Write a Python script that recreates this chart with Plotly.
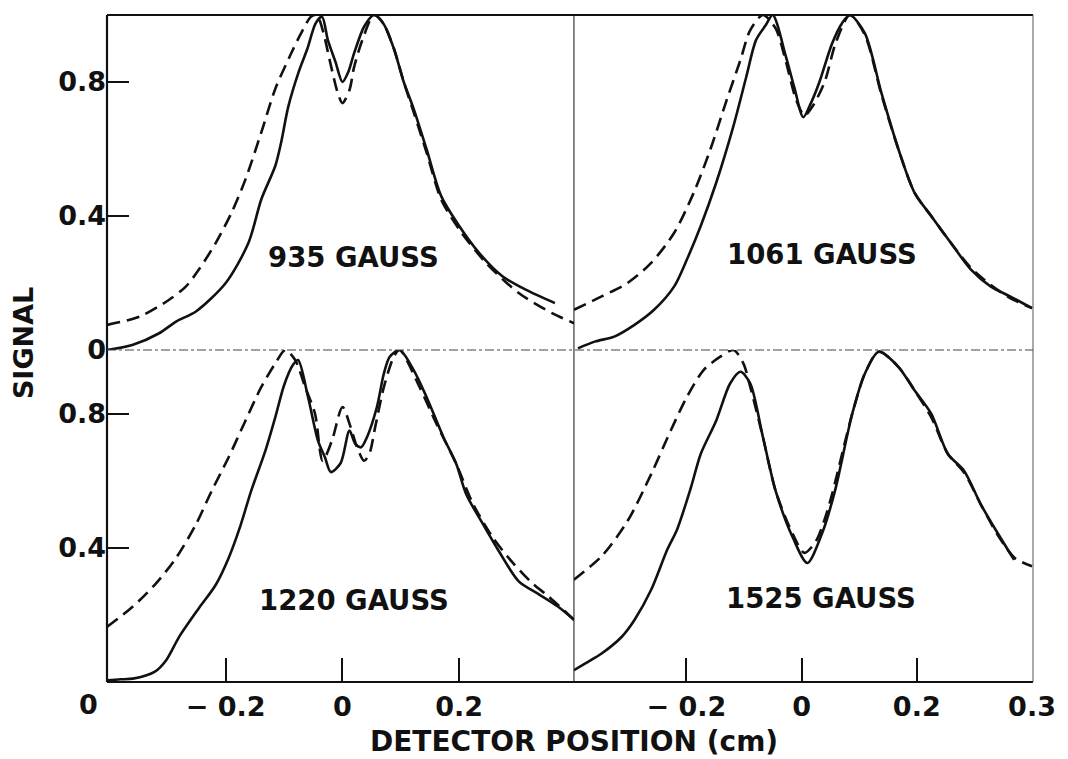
import plotly.graph_objects as go
from plotly.subplots import make_subplots

# ---- measured profiles (solid = experiment, dashed = calculation) ----
x_935_solid = [-0.403, -0.36, -0.314, -0.285, -0.251, -0.2, -0.161, -0.139, -0.115, -0.105,
               -0.093, -0.075, -0.06, -0.046, -0.035, -0.025, -0.012, 0.0, 0.01, 0.02, 0.037,
               0.054, 0.07, 0.088, 0.105, 0.122, 0.144, 0.169, 0.2, 0.234, 0.274, 0.314, 0.364]
y_935_solid = [0.0, 0.015, 0.05, 0.085, 0.115, 0.2, 0.32, 0.45, 0.55, 0.62,
               0.725, 0.83, 0.9, 0.975, 0.995, 0.925, 0.86, 0.8, 0.83, 0.886, 0.965,
               1.0, 0.975, 0.9, 0.8, 0.72, 0.6, 0.46, 0.37, 0.29, 0.22, 0.18, 0.14]

x_935_dash = [-0.403, -0.347, -0.297, -0.268, -0.246, -0.217, -0.19, -0.166, -0.139, -0.115,
              -0.088, -0.071, -0.054, -0.044, -0.033, -0.022, -0.008, 0.0, 0.012, 0.02, 0.034,
              0.054, 0.07, 0.088, 0.105, 0.122, 0.144, 0.169, 0.2, 0.246, 0.302, 0.359, 0.397]
y_935_dash = [0.075, 0.1, 0.15, 0.19, 0.24, 0.32, 0.41, 0.51, 0.65, 0.78,
              0.885, 0.945, 0.995, 1.0, 0.95, 0.866, 0.767, 0.737, 0.776, 0.845, 0.925,
              1.0, 0.975, 0.9, 0.8, 0.71, 0.59, 0.45, 0.36, 0.26, 0.17, 0.11, 0.08]

x_1061_solid = [-0.388, -0.359, -0.325, -0.29, -0.256, -0.221, -0.199, -0.175, -0.148, -0.118,
                -0.096, -0.079, -0.062, -0.05, -0.027, -0.012, 0.003, 0.017, 0.031, 0.053,
                0.07, 0.084, 0.11, 0.139, 0.168, 0.196, 0.225, 0.259, 0.294, 0.328, 0.362, 0.4]
y_1061_solid = [0.005, 0.025, 0.04, 0.075, 0.12, 0.19, 0.27, 0.37, 0.5, 0.67,
                0.815, 0.925, 0.97, 1.0, 0.875, 0.78, 0.695, 0.74, 0.8, 0.915,
                0.975, 1.0, 0.945, 0.765, 0.6, 0.47, 0.4, 0.32, 0.24, 0.19, 0.16, 0.125]

x_1061_dash = [-0.395, -0.347, -0.302, -0.261, -0.221, -0.187, -0.158, -0.13, -0.106, -0.089,
               -0.067, -0.045, -0.027, -0.01, 0.005, 0.02, 0.04, 0.06, 0.084, 0.11,
               0.139, 0.168, 0.196, 0.225, 0.259, 0.294, 0.328, 0.362, 0.4]
y_1061_dash = [0.12, 0.16, 0.2, 0.26, 0.35, 0.47, 0.6, 0.746, 0.866, 0.955,
               1.0, 0.96, 0.86, 0.75, 0.7, 0.73, 0.8, 0.92, 1.0, 0.94,
               0.76, 0.6, 0.47, 0.4, 0.32, 0.245, 0.195, 0.155, 0.125]

x_1220_solid = [-0.403, -0.38, -0.359, -0.322, -0.302, -0.28, -0.246, -0.217, -0.195, -0.175,
                -0.156, -0.132, -0.115, -0.1, -0.085, -0.076, -0.059, -0.042, -0.03, -0.02,
                -0.003, 0.012, 0.022, 0.032, 0.042, 0.059, 0.071, 0.081, 0.098, 0.122,
                0.144, 0.173, 0.195, 0.212, 0.241, 0.268, 0.302, 0.336, 0.369, 0.397]
y_1220_solid = [0.005, 0.008, 0.01, 0.03, 0.065, 0.134, 0.22, 0.29, 0.37, 0.465,
                0.572, 0.69, 0.79, 0.885, 0.945, 0.96, 0.85, 0.72, 0.67, 0.626,
                0.653, 0.75, 0.71, 0.7, 0.73, 0.82, 0.92, 0.97, 0.99, 0.93,
                0.85, 0.73, 0.65, 0.56, 0.47, 0.39, 0.3, 0.262, 0.225, 0.185]

x_1220_dash = [-0.403, -0.359, -0.319, -0.285, -0.251, -0.224, -0.195, -0.166, -0.139, -0.115,
               -0.098, -0.081, -0.064, -0.047, -0.034, -0.018, 0.0, 0.014, 0.025, 0.037,
               0.046, 0.056, 0.071, 0.088, 0.098, 0.132, 0.161, 0.195, 0.224, 0.258,
               0.292, 0.325, 0.353, 0.397]
y_1220_dash = [0.165, 0.225, 0.295, 0.37, 0.47, 0.57, 0.67, 0.78, 0.88, 0.95,
               0.99, 0.96, 0.88, 0.8, 0.66, 0.72, 0.82, 0.76, 0.7, 0.66,
               0.68, 0.76, 0.88, 0.97, 0.99, 0.88, 0.77, 0.65, 0.53, 0.43,
               0.355, 0.295, 0.255, 0.185]

x_1525_solid = [-0.395, -0.376, -0.347, -0.312, -0.29, -0.261, -0.233, -0.216, -0.192, -0.175,
                -0.148, -0.124, -0.106, -0.089, -0.067, -0.045, -0.015, 0.01, 0.036, 0.058,
                0.088, 0.11, 0.134, 0.168, 0.196, 0.225, 0.254, 0.282, 0.311, 0.34, 0.369]
y_1525_solid = [0.035, 0.055, 0.085, 0.135, 0.185, 0.275, 0.395, 0.455, 0.58, 0.68,
                0.78, 0.89, 0.925, 0.89, 0.73, 0.57, 0.43, 0.355, 0.445, 0.57,
                0.8, 0.92, 0.985, 0.94, 0.87, 0.8, 0.68, 0.63, 0.53, 0.445, 0.364]

x_1525_dash = [-0.395, -0.347, -0.302, -0.261, -0.227, -0.199, -0.17, -0.141, -0.118, -0.101,
               -0.089, -0.067, -0.045, -0.015, 0.005, 0.025, 0.041, 0.053, 0.088, 0.11,
               0.134, 0.168, 0.196, 0.225, 0.254, 0.282, 0.311, 0.34, 0.37, 0.4]
y_1525_dash = [0.305, 0.375, 0.48, 0.62, 0.75, 0.85, 0.93, 0.97, 0.99, 0.95,
               0.88, 0.73, 0.57, 0.44, 0.385, 0.42, 0.49, 0.56, 0.8, 0.92,
               0.985, 0.94, 0.87, 0.79, 0.68, 0.625, 0.53, 0.44, 0.37, 0.345]

field_labels = ["935 GAUSS", "1061 GAUSS", "1220 GAUSS", "1525 GAUSS"]

x_ticks_vals = [-0.2, 0.0, 0.2]
x_ticks_left = ["\u2212 0.2", "0", "0.2"]
x_ticks_right_vals = [-0.2, 0.0, 0.2, 0.4]
x_ticks_right = ["\u2212 0.2", "0", "0.2", "0.3"]
y_ticks_top = [0.0, 0.4, 0.8]
y_ticks_bottom = [0.4, 0.8]

# ---- figure ----
FONT = "DejaVu Sans"
INK = "#111111"

fig = make_subplots(rows=2, cols=2, horizontal_spacing=0, vertical_spacing=0,
                    column_widths=[472, 464], row_heights=[335, 332])

panels = [
    (1, 1, x_935_solid, y_935_solid, x_935_dash, y_935_dash),
    (1, 2, x_1061_solid, y_1061_solid, x_1061_dash, y_1061_dash),
    (2, 1, x_1220_solid, y_1220_solid, x_1220_dash, y_1220_dash),
    (2, 2, x_1525_solid, y_1525_solid, x_1525_dash, y_1525_dash),
]
for r, c, xs, ys, xd, yd in panels:
    fig.add_trace(go.Scatter(x=xd, y=yd, mode="lines", line_shape="spline",
                             line=dict(color=INK, width=2.6, dash="13px,7px", smoothing=0.8),
                             showlegend=False, hoverinfo="skip"), row=r, col=c)
    fig.add_trace(go.Scatter(x=xs, y=ys, mode="lines", line_shape="spline",
                             line=dict(color=INK, width=2.6, smoothing=0.8),
                             showlegend=False, hoverinfo="skip"), row=r, col=c)

LEFT_RANGE = [-0.4034, 0.3966]
RIGHT_RANGE = [-0.395, 0.4017]
tickfont = dict(family=FONT, size=27, color=INK, weight="bold")

common = dict(showgrid=False, zeroline=False, showline=False)
fig.update_xaxes(range=LEFT_RANGE, showticklabels=False, ticks="", row=1, col=1, **common)
fig.update_xaxes(range=RIGHT_RANGE, showticklabels=False, ticks="", row=1, col=2, **common)
fig.update_xaxes(range=LEFT_RANGE, ticks="inside", ticklen=24, tickwidth=1.5, tickcolor=INK,
                 tickvals=x_ticks_vals, ticktext=x_ticks_left, tickfont=tickfont,
                 ticklabelstandoff=6, row=2, col=1, **common)
fig.update_xaxes(range=RIGHT_RANGE, ticks="inside", ticklen=24, tickwidth=1.5, tickcolor=INK,
                 tickvals=x_ticks_right_vals, ticktext=x_ticks_right, tickfont=tickfont,
                 ticklabelstandoff=6, row=2, col=2, **common)
fig.update_yaxes(range=[0, 1.0], ticks="inside", ticklen=22, tickwidth=1.5, tickcolor=INK,
                 tickvals=y_ticks_top, ticktext=["0", "0.4", "0.8"], tickfont=tickfont,
                 row=1, col=1, **common)
fig.update_yaxes(range=[0, 1.0], showticklabels=False, ticks="", row=1, col=2, **common)
fig.update_yaxes(range=[0, 0.99], ticks="inside", ticklen=22, tickwidth=1.5, tickcolor=INK,
                 tickvals=y_ticks_bottom, ticktext=["0.4", "0.8"], tickfont=tickfont,
                 row=2, col=1, **common)
fig.update_yaxes(range=[0, 0.99], showticklabels=False, ticks="", row=2, col=2, **common)

# frame and panel dividers (paper coordinates)
xdiv = 472 / 936
ydiv = 332 / 667
shapes = [
    dict(type="line", xref="paper", yref="paper", x0=0, x1=1, y0=1, y1=1,
         line=dict(color=INK, width=2.2)),
    dict(type="line", xref="paper", yref="paper", x0=0, x1=1, y0=0, y1=0,
         line=dict(color=INK, width=2.2)),
    dict(type="line", xref="paper", yref="paper", x0=0, x1=0, y0=0, y1=1,
         line=dict(color=INK, width=2.2)),
    dict(type="line", xref="paper", yref="paper", x0=1, x1=1, y0=0, y1=1,
         line=dict(color="#555555", width=1)),
    dict(type="line", xref="paper", yref="paper", x0=xdiv, x1=xdiv, y0=0, y1=1,
         line=dict(color=INK, width=1)),
    dict(type="line", xref="paper", yref="paper", x0=0, x1=1, y0=ydiv, y1=ydiv,
         line=dict(color="#444444", width=1, dash="dashdot")),
]

label_font = dict(family=FONT, size=27.5, color=INK, weight="bold")
centered = dict(showarrow=False, xanchor="center", yanchor="middle")
annotations = [
    dict(text=field_labels[0], x=0.019, y=0.278, xref="x", yref="y", font=label_font, **centered),
    dict(text=field_labels[1], x=0.036, y=0.287, xref="x2", yref="y2", font=label_font, **centered),
    dict(text=field_labels[2], x=0.020, y=0.245, xref="x3", yref="y3", font=label_font, **centered),
    dict(text=field_labels[3], x=0.033, y=0.250, xref="x4", yref="y4", font=label_font, **centered),
    dict(text="SIGNAL", x=-0.0908, y=0.508, xref="paper", yref="paper", textangle=-90,
         font=dict(family=FONT, size=27, color=INK, weight="bold"), **centered),
    dict(text="DETECTOR POSITION (cm)", x=xdiv, y=-0.0885, xref="paper", yref="paper",
         font=dict(family=FONT, size=28, color=INK, weight="bold"), **centered),
    dict(text="0", x=-0.0203, y=-0.033, xref="paper", yref="paper", font=tickfont, **centered),
]

fig.update_layout(
    width=1068, height=759,
    margin=dict(l=107, r=25, t=15, b=77),
    paper_bgcolor="white", plot_bgcolor="white",
    shapes=shapes, annotations=annotations,
    showlegend=False,
)

fig.write_html("out.html")
